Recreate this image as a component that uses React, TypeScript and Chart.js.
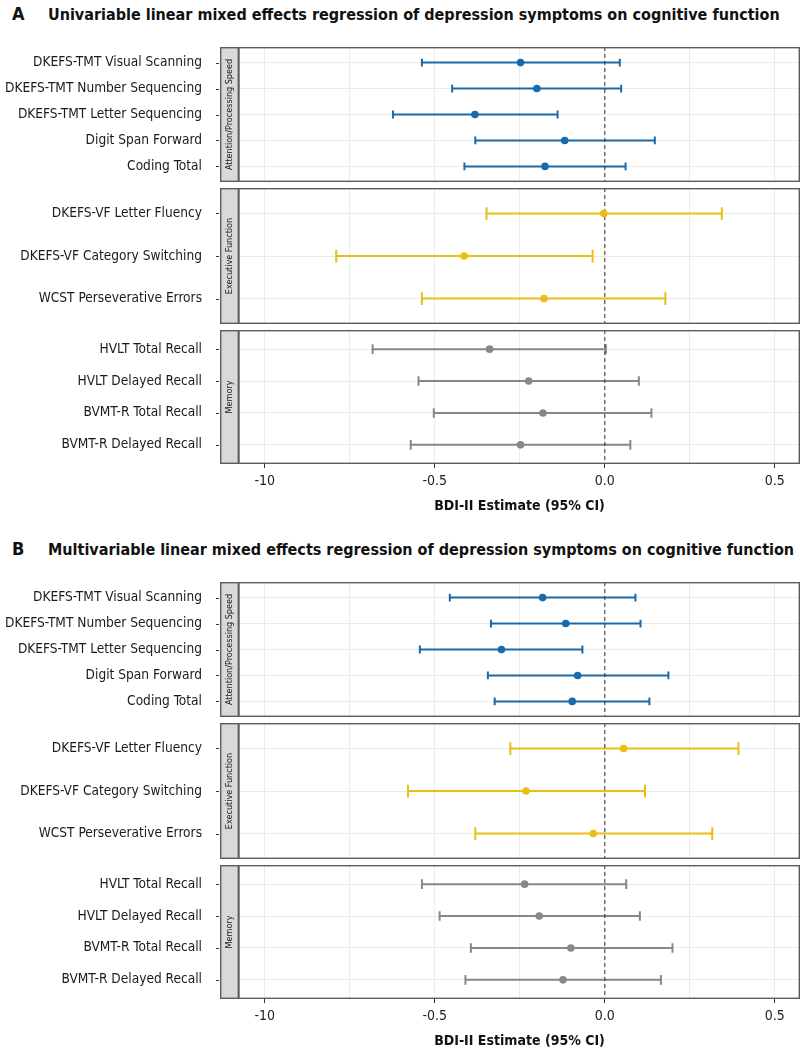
import React, { useEffect, useRef } from 'react';
import { Chart, registerables } from 'chart.js';

Chart.register(...registerables);

const FONT = '"DejaVu Sans Condensed", "DejaVu Sans", sans-serif';

// ---------------- data ----------------
const attentionTests = [
  'DKEFS-TMT Visual Scanning',
  'DKEFS-TMT Number Sequencing',
  'DKEFS-TMT Letter Sequencing',
  'Digit Span Forward',
  'Coding Total',
];
const executiveTests = [
  'DKEFS-VF Letter Fluency',
  'DKEFS-VF Category Switching',
  'WCST Perseverative Errors',
];
const memoryTests = [
  'HVLT Total Recall',
  'HVLT Delayed Recall',
  'BVMT-R Total Recall',
  'BVMT-R Delayed Recall',
];
const domainNames = ['Attention/Processing Speed', 'Executive Function', 'Memory'];

// Panel A: univariable
const uniAttentionEst = [-0.248, -0.2, -0.382, -0.118, -0.176];
const uniAttentionLow = [-0.538, -0.449, -0.623, -0.381, -0.413];
const uniAttentionHigh = [0.044, 0.048, -0.139, 0.147, 0.061];
const uniExecutiveEst = [-0.003, -0.414, -0.179];
const uniExecutiveLow = [-0.348, -0.79, -0.538];
const uniExecutiveHigh = [0.344, -0.036, 0.178];
const uniMemoryEst = [-0.339, -0.224, -0.182, -0.248];
const uniMemoryLow = [-0.683, -0.548, -0.503, -0.571];
const uniMemoryHigh = [0.003, 0.1, 0.137, 0.075];

// Panel B: multivariable
const multiAttentionEst = [-0.183, -0.115, -0.304, -0.08, -0.096];
const multiAttentionLow = [-0.456, -0.335, -0.544, -0.344, -0.324];
const multiAttentionHigh = [0.09, 0.105, -0.066, 0.187, 0.131];
const multiExecutiveEst = [0.055, -0.232, -0.034];
const multiExecutiveLow = [-0.278, -0.579, -0.381];
const multiExecutiveHigh = [0.393, 0.118, 0.316];
const multiMemoryEst = [-0.236, -0.193, -0.1, -0.123];
const multiMemoryLow = [-0.538, -0.486, -0.394, -0.41];
const multiMemoryHigh = [0.063, 0.103, 0.199, 0.165];

const xGridValues = [-1, -0.75, -0.5, -0.25, 0, 0.25, 0.5];
const xMajorValues = [-1, -0.5, 0, 0.5];
const xMajorLabels = ['-10', '-0.5', '0.0', '0.5'];
const xMin = -1.076;
const xMax = 0.574;

const panelLetters = ['A', 'B'];
const panelTitles = [
  'Univariable linear mixed effects regression of depression symptoms on cognitive function',
  'Multivariable linear mixed effects regression of depression symptoms on cognitive function',
];
const xAxisTitle = 'BDI-II Estimate (95% CI)';

// ---------------- styles ----------------
const domainColors = ['#1A6AAA', '#E8BF12', '#878787'];
const PLOT_LEFT = 239;
const STRIP_W = 19;

const facetDecor = {
  id: 'facetDecor',
  afterDraw(chart: any, _args: any, opts: any) {
    const { ctx, chartArea: a, scales } = chart;
    ctx.save();
    // y tick marks
    ctx.strokeStyle = '#333';
    ctx.lineWidth = 1;
    const sx = a.left - STRIP_W;
    scales.y.ticks.forEach((t: any) => {
      const py = Math.round(scales.y.getPixelForValue(t.value)) + 0.5;
      ctx.beginPath();
      ctx.moveTo(sx - 4, py);
      ctx.lineTo(sx - 1, py);
      ctx.stroke();
    });
    // strip
    ctx.fillStyle = '#D9D9D9';
    ctx.fillRect(sx, a.top, STRIP_W, a.bottom - a.top);
    ctx.strokeStyle = '#5C5C5C';
    ctx.lineWidth = 1.4;
    ctx.strokeRect(sx + 0.7, a.top + 0.7, STRIP_W - 1.4, a.bottom - a.top - 1.4);
    // panel border
    ctx.strokeRect(a.left, a.top + 0.7, a.right - a.left - 0.7, a.bottom - a.top - 1.4);
    // strip text
    ctx.translate(sx + STRIP_W / 2 + 0.5, (a.top + a.bottom) / 2);
    ctx.rotate(-Math.PI / 2);
    ctx.fillStyle = '#1a1a1a';
    ctx.font = `9px ${FONT}`;
    ctx.textAlign = 'center';
    ctx.textBaseline = 'middle';
    ctx.fillText(opts.text, 0, 0);
    ctx.restore();
  },
};

type FacetProps = {
  top: number;
  plotHeight: number;
  showAxis: boolean;
  labels: string[];
  est: number[];
  lo: number[];
  hi: number[];
  color: string;
  strip: string;
};

function FacetChart({ top, plotHeight, showAxis, labels, est, lo, hi, color, strip }: FacetProps) {
  const ref = useRef<HTMLCanvasElement>(null);
  const axisHeight = showAxis ? 52 : 0;
  const canvasHeight = plotHeight + axisHeight;

  useEffect(() => {
    const canvas = ref.current;
    if (!canvas) return;
    const n = labels.length;
    const rows = labels.map((_, i) => i + 1);
    const gap = { x: null, y: null };
    const capHalf = 0.15;
    const ciData = rows.flatMap((r, i) => [{ x: lo[i], y: r }, { x: hi[i], y: r }, gap]);
    const capData = rows.flatMap((r, i) => [
      { x: lo[i], y: r - capHalf },
      { x: lo[i], y: r + capHalf },
      gap,
      { x: hi[i], y: r - capHalf },
      { x: hi[i], y: r + capHalf },
      gap,
    ]);
    const pointData = rows.map((r, i) => ({ x: est[i], y: r }));
    const zeroData = [
      { x: 0, y: 0.4 },
      { x: 0, y: n + 0.6 },
    ];
    const majorSet = new Set(xMajorValues);

    const chart = new Chart(canvas, {
      type: 'line',
      data: {
        datasets: [
          {
            data: pointData as any,
            showLine: false,
            pointRadius: 3.8,
            pointBackgroundColor: color,
            pointBorderWidth: 0,
            order: 0,
          },
          {
            data: zeroData as any,
            borderColor: '#333',
            borderWidth: 1,
            borderDash: [4, 3],
            pointRadius: 0,
            order: 1,
          },
          {
            data: capData as any,
            borderColor: color,
            borderWidth: 2,
            pointRadius: 0,
            spanGaps: false,
            order: 2,
          },
          {
            data: ciData as any,
            borderColor: color,
            borderWidth: 2,
            pointRadius: 0,
            spanGaps: false,
            order: 3,
          },
        ],
      },
      options: {
        responsive: false,
        animation: false,
        events: [],
        layout: { autoPadding: false, padding: { left: 0, right: 3, top: 0, bottom: 0 } },
        plugins: {
          legend: { display: false },
          tooltip: { enabled: false },
          facetDecor: { text: strip },
        } as any,
        scales: {
          x: {
            type: 'linear',
            min: xMin,
            max: xMax,
            afterBuildTicks: (s: any) => {
              s.ticks = xGridValues.map((v) => ({ value: v }));
            },
            afterFit: (s: any) => {
              s.height = axisHeight;
              s.paddingLeft = 0;
              s.paddingRight = 0;
            },
            ticks: {
              display: showAxis,
              autoSkip: false,
              maxRotation: 0,
              padding: 5,
              color: '#222',
              font: { family: FONT, size: 14 },
              callback: (v: any) => {
                const idx = xMajorValues.indexOf(Number(v));
                return idx >= 0 ? xMajorLabels[idx] : '';
              },
            },
            grid: {
              color: '#EBEBEB',
              lineWidth: 1,
              drawTicks: showAxis,
              tickLength: 4,
              tickColor: (c: any) => (c.tick && majorSet.has(c.tick.value) ? '#333' : 'rgba(0,0,0,0)'),
            },
            border: { display: false },
            title: {
              display: showAxis,
              text: xAxisTitle,
              color: '#111',
              font: { family: FONT, size: 14, weight: 'bold' },
              padding: { top: 0, bottom: 1 },
            },
          },
          y: {
            type: 'linear',
            reverse: true,
            min: 0.4,
            max: n + 0.6,
            afterBuildTicks: (s: any) => {
              s.ticks = rows.map((v) => ({ value: v }));
            },
            afterFit: (s: any) => {
              s.width = PLOT_LEFT;
              s.paddingTop = 0;
              s.paddingBottom = 0;
            },
            ticks: {
              autoSkip: false,
              padding: 37,
              color: '#1a1a1a',
              font: { family: FONT, size: 13.6 },
              callback: (v: any) => labels[Math.round(Number(v)) - 1],
            },
            grid: { color: '#EBEBEB', lineWidth: 1, drawTicks: false },
            border: { display: false },
          },
        },
      } as any,
      plugins: [facetDecor as any],
    });
    return () => chart.destroy();
  }, []);

  return (
    <canvas
      ref={ref}
      width={803}
      height={canvasHeight}
      style={{ position: 'absolute', left: 0, top, width: 803, height: canvasHeight, display: 'block' }}
    />
  );
}

const panels = [
  {
    offset: 0,
    est: [uniAttentionEst, uniExecutiveEst, uniMemoryEst],
    lo: [uniAttentionLow, uniExecutiveLow, uniMemoryLow],
    hi: [uniAttentionHigh, uniExecutiveHigh, uniMemoryHigh],
  },
  {
    offset: 535,
    est: [multiAttentionEst, multiExecutiveEst, multiMemoryEst],
    lo: [multiAttentionLow, multiExecutiveLow, multiMemoryLow],
    hi: [multiAttentionHigh, multiExecutiveHigh, multiMemoryHigh],
  },
];
const domainTests = [attentionTests, executiveTests, memoryTests];
const facetTops = [47, 188, 330];
const facetHeights = [135, 136, 134];

export default function App() {
  return (
    <div
      style={{
        position: 'absolute',
        left: 0,
        top: 0,
        width: 803,
        height: 1050,
        background: '#fff',
        overflow: 'hidden',
        fontFamily: FONT,
      }}
    >
      {panels.map((p, pi) => (
        <React.Fragment key={pi}>
          <div
            style={{
              position: 'absolute',
              left: 12,
              top: 5 + p.offset,
              fontSize: 18,
              lineHeight: 1,
              fontWeight: 'bold',
              color: '#111',
              whiteSpace: 'nowrap',
            }}
          >
            {panelLetters[pi]}
          </div>
          <div
            style={{
              position: 'absolute',
              left: 48,
              top: 6.5 + p.offset,
              fontSize: 16,
              lineHeight: 1,
              fontWeight: 'bold',
              color: '#111',
              whiteSpace: 'nowrap',
            }}
          >
            {panelTitles[pi]}
          </div>
          {domainNames.map((d, di) => (
            <FacetChart
              key={di}
              top={facetTops[di] + p.offset}
              plotHeight={facetHeights[di]}
              showAxis={di === 2}
              labels={domainTests[di]}
              est={p.est[di]}
              lo={p.lo[di]}
              hi={p.hi[di]}
              color={domainColors[di]}
              strip={d}
            />
          ))}
        </React.Fragment>
      ))}
    </div>
  );
}
